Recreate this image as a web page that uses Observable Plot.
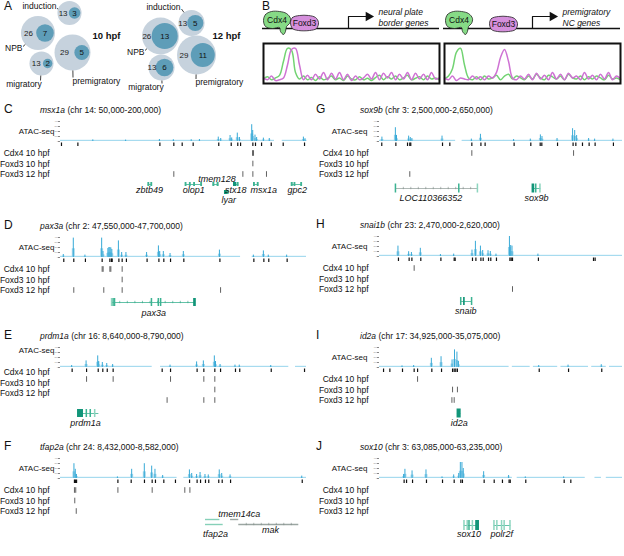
<!DOCTYPE html>
<html><head><meta charset="utf-8">
<script src="https://cdn.jsdelivr.net/npm/d3@7"></script>
<script src="https://cdn.jsdelivr.net/npm/@observablehq/plot@0.6"></script>
<style>
body{margin:0;background:#fff;}
#fig{position:relative;width:624px;height:556px;overflow:hidden;font-family:"Liberation Sans",Arial,Helvetica,sans-serif;color:#111;background:#fff;}
.lbl{position:absolute;white-space:nowrap;line-height:1;}
.letter{font-size:12px;}
.title{font-size:8.5px;}
</style></head><body><div id="fig"></div><script>
// ---------------- DATA ----------------
// Panel A: genes per module and number bound
const categories = ["induction", "NPB", "premigratory", "migratory"];
const totalGenes = [13, 26, 29, 13];
const bound10hpf = [3, 7, 5, 2];
const bound12hpf = [5, 13, 11, 6];

// Panel B: schematic coverage traces (relative signal)
const traceLeftCdx4  = [0.12,0.18,0.1,0.15,0.22,0.6,0.95,0.9,0.3,0.12,0.2,0.1,0.16,0.08,0.18,0.1,0.14,0.2,0.1,0.15,0.08,0.2,0.12,0.1,0.18,0.1,0.14,0.08,0.16,0.22,0.1,0.18,0.12,0.2,0.1,0.15,0.22,0.1,0.14,0.18,0.1,0.2,0.12,0.15,0.1];
const traceLeftFoxd3 = [0.15,0.1,0.2,0.08,0.1,0.15,0.5,0.92,0.95,0.5,0.1,0.22,0.1,0.25,0.12,0.3,0.1,0.28,0.12,0.3,0.1,0.25,0.08,0.2,0.1,0.15,0.25,0.12,0.3,0.1,0.28,0.15,0.3,0.1,0.25,0.12,0.3,0.1,0.28,0.12,0.25,0.1,0.3,0.12,0.15];
const traceRightCdx4 = [0.12,0.2,0.4,0.85,0.95,0.5,0.15,0.1,0.18,0.1,0.2,0.12,0.15,0.22,0.1,0.2,0.25,0.12,0.2,0.15,0.1,0.2,0.12,0.25,0.15,0.1,0.22,0.18,0.12,0.2,0.1,0.25,0.15,0.12,0.2,0.1,0.18,0.12,0.2,0.15,0.1,0.22,0.12,0.15,0.1];
const traceRightFoxd3= [0.15,0.1,0.2,0.08,0.15,0.12,0.1,0.2,0.12,0.18,0.1,0.2,0.15,0.3,0.7,0.92,0.6,0.15,0.1,0.2,0.12,0.25,0.1,0.28,0.12,0.22,0.1,0.3,0.12,0.25,0.1,0.28,0.15,0.2,0.1,0.3,0.12,0.22,0.1,0.25,0.12,0.3,0.1,0.2,0.12];

// Panels C-J: genomic loci (positions in kb)
const loci        = ["msx1a","pax3a","prdm1a","tfap2a","sox9b","snai1b","id2a","sox10"];
const chromosomes = [14, 2, 16, 24, 3, 23, 17, 3];
const regionStart = [50, 47550, 8640, 8432, 2500, 2470, 34925, 63085];
const regionEnd   = [200, 47700, 8790, 8582, 2650, 2620, 35075, 63235];
const trackNames  = ["Cdx4 10 hpf", "Foxd3 10 hpf", "Foxd3 12 hpf"];

// C: msx1a
const msx1a_atac = [[70,0.08],[90,0.07],[110.6,0.1],[119.1,0.09],[130,0.09],[135,0.1],[146.5,0.22],[148.0,0.15],[153.7,0.30],[154.7,0.18],[158.1,0.42],[159.4,0.2],[166.9,0.84],[167.5,0.55],[168.9,0.32],[169.9,0.2],[174.0,0.17],[177.6,0.15],[198.4,0.22],[199.4,0.14]];
const msx1a_cov = [[50,180.5],[185.2,200]];
const msx1a_peaks = [50.6,60.6,110.6,119.1,124.2,130.9,146.5,154.1,158.1,159.8,167.3,168.9,172.6,178.5,185.8,198.8];
const msx1a_cdx4 = [167.1,167.7];
const msx1a_foxd3_10 = [167.3];
const msx1a_foxd3_12 = [119.1,161.2,167.3,175.6];
const msx1a_genes = [
 {name:"zbtb49", start:103.5, end:106.0, exons:[[103.5,104.2,1],[105.3,106.0,1]], lane:0, label:"below", at:104.3},
 {name:"olop1", start:126.2, end:136.4, exons:[[126.2,126.9,1],[128.8,129.5,1],[131.4,132.1,1],[135.7,136.4,1]], lane:0, label:"below", at:131.3},
 {name:"tmem128", start:143.1, end:146.5, exons:[[143.1,143.9,1],[145.7,146.5,1]], lane:0, label:"above", at:145.5},
 {name:"lyar", start:150.2, end:152.6, exons:[[150.2,151.6,0],[151.9,152.6,1]], lane:1, label:"below2", at:152.6},
 {name:"stx18", start:155.7, end:158.7, exons:[[155.7,157.3,0],[158.0,158.7,1]], lane:0, label:"below", at:156.9},
 {name:"msx1a", start:167.9, end:170.9, exons:[[167.9,168.6,1],[170.2,170.9,1]], lane:0, label:"below", at:174.0},
 {name:"gpc2", start:190.9, end:197.4, exons:[[190.9,191.7,1],[192.6,193.3,1],[196.7,197.4,1]], lane:0, label:"below", at:194.3}
];
// D: pax3a
const pax3a_atac = [[47552.0,0.15],[47558.1,0.97],[47565.2,0.12],[47575.4,0.97],[47576.2,0.3],[47579.2,0.45],[47579.8,0.5],[47580.4,0.5],[47581.0,0.48],[47581.6,0.4],[47585.6,0.83],[47587.6,0.25],[47590.2,0.25],[47602.8,0.25],[47610.0,0.58],[47610.8,0.3],[47613.0,0.3],[47617.1,0.2],[47625.2,0.3],[47647.2,0.37],[47667.9,0.12],[47674.0,0.33],[47677.0,0.12],[47688.2,0.12]];
const pax3a_cov = [[47550,47659.8],[47666.9,47700]];
const pax3a_peaks = [47552.0,47558.1,47565.2,47575.4,47580.1,47581.1,47581.5,47585.6,47587.6,47590.2,47602.8,47610.0,47613.0,47617.1,47625.2,47647.2,47667.9,47674.0,47677.0,47688.2];
const pax3a_cdx4 = [47575.4,47576.0,47580.1,47580.7,47587.6];
const pax3a_foxd3_10 = [47587.6];
const pax3a_foxd3_12 = [47558.1,47576.4,47587.6,47647.6];
const pax3a_genes = [
 {name:"pax3a", start:47581.5, end:47632.3, exons:[[47581.2,47581.7,2],[47582.1,47582.6,1],[47583.0,47583.5,1],[47605.5,47606.0,1],[47609.7,47610.2,1],[47611.1,47611.6,1],[47631.4,47632.6,0]], lane:0, label:"below", at:47606.9, ticks:true}
];
// E: prdm1a
const prdm1a_atac = [[8647.1,0.1],[8655.9,0.33],[8663.0,0.58],[8663.6,0.3],[8665.8,0.25],[8668.5,0.2],[8672.1,0.15],[8707.1,0.12],[8723.3,0.28],[8727.4,0.33],[8734.1,0.58],[8734.8,0.3],[8737.6,0.15],[8746.7,0.12],[8749.3,0.12],[8768.5,0.1]];
const prdm1a_cov = [[8640,8695.9],[8701.0,8779.2],[8783.3,8790]];
const prdm1a_peaks = [8647.1,8655.9,8663.0,8665.8,8668.5,8672.1,8702.0,8707.1,8723.3,8727.4,8734.1,8737.6,8746.7,8749.3,8768.5,8788.8];
const prdm1a_cdx4 = [8655.9,8672.1,8707.1,8727.4,8734.1];
const prdm1a_foxd3_10 = [8734.1];
const prdm1a_foxd3_12 = [8705.0,8727.4,8734.1];
const prdm1a_genes = [
 {name:"prdm1a", start:8650.6, end:8663.4, exons:[[8650.6,8653.8,0],[8655.8,8656.3,1],[8658.2,8658.7,1],[8660.9,8661.4,2]], lane:0, label:"below", at:8655.2}
];
// F: tfap2a
const tfap2a_atac = [[8440.5,0.74],[8441.3,0.46],[8442.0,0.2],[8467.0,0.08],[8475.7,0.46],[8483.4,0.74],[8487.9,0.62],[8489.9,0.46],[8494.6,0.15],[8510.9,0.43],[8512.3,0.25],[8515.3,0.2],[8517.4,0.3],[8520.4,0.2],[8522.4,0.18],[8529.1,0.43],[8530.6,0.25],[8535.7,0.18],[8579.4,0.12]];
const tfap2a_cov = [[8432,8503.1],[8507.2,8582]];
const tfap2a_peaks = [8440.5,8441.1,8441.8,8467.0,8475.1,8483.2,8487.9,8489.9,8495.0,8502.1,8510.7,8515.3,8517.4,8520.4,8522.4,8528.5,8530.6,8535.7,8579.4];
const tfap2a_cdx4 = [8440.5,8441.3,8467.0,8487.9,8507.8,8510.9];
const tfap2a_foxd3_10 = [8440.7];
const tfap2a_foxd3_12 = [8441.6];
const tfap2a_genes = [
 {name:"tfap2a", start:8520.4, end:8529.2, exons:[], lane:0, label:null, line:"light"},
 {name:"tfap2a", start:8520.4, end:8531.2, exons:[], lane:1, label:"below2", at:8526.5, line:"light"},
 {name:"tmem14ca", start:8535.7, end:8540.7, exons:[], lane:0, label:"above", at:8541.0, line:"grey"},
 {name:"mak", start:8540.7, end:8577.3, exons:[], lane:1, label:"below", at:8560.0, line:"grey", ticks:true}
];
// G: sox9b
const sox9b_atac = [[2501.8,0.22],[2510.1,0.69],[2510.8,0.3],[2518.3,0.27],[2519.3,0.2],[2520.3,0.15],[2538.9,0.27],[2557.0,0.12],[2562.6,0.36],[2583.1,0.1],[2593.4,0.12],[2599.6,0.33],[2600.6,0.25],[2609.9,0.15],[2619.5,0.64],[2620.8,0.55],[2622.0,0.3],[2629.4,0.15],[2633.1,0.12],[2644.4,0.12]];
const sox9b_cov = [[2500,2547],[2551,2650]];
const sox9b_peaks = [2501.4,2510.1,2517.3,2518.7,2519.3,2538.9,2543.4,2557.0,2562.6,2565.2,2583.1,2593.4,2599.2,2600.2,2609.9,2619.5,2621.2,2625.3,2629.4,2633.1,2644.4];
const sox9b_cdx4 = [2557.0,2619.8];
const sox9b_foxd3_10 = [];
const sox9b_foxd3_12 = [2518.7];
const sox9b_genes = [
 {name:"LOC110366352", start:2510.1, end:2560.9, exons:[[2509.9,2510.4,1],[2549.0,2549.5,1],[2560.5,2561.0,2]], lane:0, label:"below", at:2531.7, line:"grey", ticks:true},
 {name:"sox9b", start:2594.4, end:2599.6, exons:[[2594.4,2595.6,0],[2596.5,2597.0,1],[2599.1,2599.6,2]], lane:0, label:"below", at:2596.9}
];
// H: snai1b
const snai1b_atac = [[2481.7,0.52],[2488.3,0.24],[2490.0,0.2],[2495.5,0.41],[2507.9,0.1],[2516.1,0.12],[2527.4,0.32],[2529.5,0.76],[2532.6,0.52],[2534.0,0.3],[2537.3,0.29],[2538.7,0.25],[2542.2,0.12],[2550.5,1.0],[2551.3,0.55],[2552.1,0.52],[2568.1,0.12]];
const snai1b_cov = [[2470,2620]];
const snai1b_peaks = [2481.7,2488.3,2490.0,2495.5,2507.9,2516.1,2516.7,2527.4,2529.5,2532.6,2534.0,2537.3,2538.7,2542.2,2550.5,2551.3,2552.1,2568.1,2602.1,2603.1];
const snai1b_cdx4 = [2491.4];
const snai1b_foxd3_10 = [];
const snai1b_foxd3_12 = [2552.1];
const snai1b_genes = [
 {name:"snaib", start:2520.2, end:2527.4, exons:[[2520.2,2520.7,1],[2522.1,2522.7,0],[2526.9,2527.4,1]], lane:0, label:"below", at:2523.3}
];
// I: id2a
const id2a_atac = [[34939.2,0.08],[34946.4,0.1],[34957.3,0.46],[34963.3,0.54],[34970.1,0.38],[34971.6,0.88],[34973.1,0.77],[34974.0,0.3],[35023.6,0.1],[35041.7,0.12],[35062.2,0.14]];
const id2a_cov = [[34925,35005],[35007,35018],[35020,35035],[35037,35054],[35056,35065],[35067,35075]];
const id2a_peaks = [34927.5,34931.4,34939.2,34946.4,34948.5,34957.3,34963.3,34970.1,34971.1,34972.1,34973.1,35023.6,35041.7,35062.2];
const id2a_cdx4 = [34948.5];
const id2a_foxd3_10 = [34970.1,34973.1];
const id2a_foxd3_12 = [34969.7,34971.1];
const id2a_genes = [
 {name:"id2a", start:34973.1, end:34975.2, exons:[[34973.1,34975.2,0]], lane:0, label:"below", at:34974.2}
];
// J: sox10
const sox10_atac = [[63100.2,0.2],[63101.0,0.46],[63105.4,0.38],[63114.0,0.43],[63123.9,0.08],[63131.1,0.18],[63134.2,0.25],[63135.2,0.8],[63136.2,0.8],[63137.0,0.5],[63149.6,0.34],[63165.0,0.15],[63175.3,0.08],[63199.0,0.08]];
const sox10_cov = [[63085,63167],[63170,63212],[63218,63222],[63225,63235]];
const sox10_peaks = [63100.2,63101.7,63105.4,63114.0,63123.9,63131.1,63135.2,63136.2,63149.6,63155.8,63160.9,63165.0,63165.7,63175.3,63199.0,63203.1];
const sox10_cdx4 = [];
const sox10_foxd3_10 = [];
const sox10_foxd3_12 = [];
const sox10_genes = [
 {name:"sox10", start:63137.3, end:63146.5, exons:[[63137.2,63137.7,2],[63139.2,63139.7,2],[63140.3,63140.8,1],[63142.4,63142.9,2],[63144.6,63146.5,0]], lane:0, label:"below", at:63140.3},
 {name:"polr2f", start:63155.8, end:63166.1, exons:[[63155.7,63156.2,2],[63157.5,63158.0,2],[63160.4,63160.9,2],[63162.0,63162.5,2],[63165.6,63166.1,2]], lane:0, label:"below", at:63160.5}
];

// ---------------- LAYOUT / DRAW ----------------
const fig = document.getElementById("fig");
const FONT = '"Liberation Sans", Arial, Helvetica, sans-serif';
const st = {fontFamily: FONT, background: "transparent", overflow: "visible", color: "#111"};
function put(node, left, top) {
  node.style.position = "absolute"; node.style.left = left + "px"; node.style.top = top + "px";
  node.style.maxWidth = "none";
  fig.appendChild(node); return node;
}
function html(text, cls, left, top) {
  const d = document.createElement("div"); d.className = "lbl " + cls; d.innerHTML = text; return put(d, left, top);
}

// ---- Panel A ----
html("A", "letter", 4, 0);
function circles(bound, pos, rMax, labels, stage) {
  const rs = n => rMax * Math.sqrt(n / 29);
  const rows = categories.map((c, i) => {
    const R = rs(totalGenes[i]), r = rs(bound[i]);
    const cx = pos[i][0], cy = pos[i][1], icx = cx + R - r - 1.2;
    return {cat: c, total: totalGenes[i], bound: bound[i], cx, cy, icx, tlx: (cx - R + icx - r) / 2, R};
  });
  const leaders = labels.map(l => {
    const c = rows.find(r => r.cat === l.cat);
    const dx = c.cx - l.lx, dy = c.cy - l.ly, dist = Math.hypot(dx, dy), t = (dist - c.R) / dist;
    return {...l, ex: l.lx + dx * t, ey: l.ly + dy * t};
  });
  const labelMarks = ["start", "middle", "end"].map(a =>
    Plot.text(leaders.filter(l => l.anchor === a), {x: "x", y: "y", text: "text", textAnchor: a, fontSize: 8.5, fill: "#111"}));
  return Plot.plot({
    width: 250, height: 95, margin: 0, style: st,
    x: {domain: [0, 250], range: [0, 250], axis: null},
    y: {domain: [0, 95], range: [0, 95], axis: null},
    r: {type: "sqrt", domain: [0, 29], range: [0, rMax]},
    marks: [
      Plot.dot(rows, {x: "cx", y: "cy", r: "total", fill: "#c6d2dd"}),
      Plot.dot(rows, {x: "icx", y: "cy", r: "bound", fill: "#5e9db8"}),
      Plot.text(rows, {x: "tlx", y: "cy", text: d => String(d.total), fontSize: 8, fill: "#222"}),
      Plot.text(rows, {x: "icx", y: "cy", text: d => String(d.bound), fontSize: 8, fill: "#111"}),
      Plot.link(leaders, {x1: "lx", y1: "ly", x2: "ex", y2: "ey", stroke: "#111", strokeWidth: 0.8}),
      ...labelMarks,
      Plot.text([stage], {x: "x", y: "y", text: "text", textAnchor: "start", fontSize: 9.5, fontWeight: "bold", fill: "#111"})
    ]
  });
}
put(circles(bound10hpf, [[69, 12.5], [37.5, 32.5], [72, 52], [41, 63]], 18,
  [{cat: "induction", text: "induction", x: 56, y: 6, anchor: "end", lx: 56.5, ly: 8},
   {cat: "NPB", text: "NPB", x: 22, y: 48, anchor: "end", lx: 22.5, ly: 46},
   {cat: "migratory", text: "migratory", x: 23.5, y: 84, anchor: "middle", lx: 40, ly: 80},
   {cat: "premigratory", text: "premigratory", x: 72, y: 81, anchor: "start", lx: 72.5, ly: 77}],
  {text: "10 hpf", x: 92, y: 35}), 0, 0);
put(circles(bound12hpf, [[191, 22.5], [160, 35.5], [196, 54.5], [161, 67]], 19.5,
  [{cat: "induction", text: "induction", x: 180, y: 7, anchor: "end", lx: 181, ly: 8.5},
   {cat: "NPB", text: "NPB", x: 144, y: 52, anchor: "end", lx: 144.5, ly: 50},
   {cat: "migratory", text: "migratory", x: 145.5, y: 87, anchor: "middle", lx: 161.5, ly: 83},
   {cat: "premigratory", text: "premigratory", x: 195, y: 82, anchor: "start", lx: 195.5, ly: 78.5}],
  {text: "12 hpf", x: 212, y: 35}), 0, 0);

// ---- Panel B ----
html("B", "letter", 262, 0);
const cdx4Outline = [[0,9],[2,3],[8,0],[16,0],[23,2],[27,7],[26,12],[23,15],[22,20],[20,23],[17,20],[16,16],[9,17],[2,15]];
const foxd3Outline = [[0,7],[2,2],[9,0],[18,0],[25,2],[28,7],[26,13],[19,15],[8,15],[2,13]];
function schematic(cdxX, foxX, foxY, arrowX, line1, line2) {
  const shift = (o, dx, dy) => o.map(([x, y]) => ({x: x + dx, y: y + dy}));
  return Plot.plot({
    width: 178, height: 36, margin: 0, style: st,
    x: {domain: [0, 178], range: [0, 178], axis: null},
    y: {domain: [0, 36], range: [0, 36], axis: null},
    marks: [
      Plot.ruleY([28], {x1: 0, x2: 177, stroke: "#111", strokeWidth: 1.6}),
      Plot.line(shift(foxd3Outline, foxX, foxY), {x: "x", y: "y", curve: "catmull-rom-closed", fill: "#d58fdc", stroke: "#222", strokeWidth: 0.8}),
      Plot.line(shift(cdx4Outline, cdxX, 11), {x: "x", y: "y", curve: "catmull-rom-closed", fill: "#86da86", stroke: "#222", strokeWidth: 0.8}),
      Plot.text([{x: cdxX + 13.5, y: 20, t: "Cdx4"}, {x: foxX + 14, y: foxY + 7.5, t: "Foxd3"}], {x: "x", y: "y", text: "t", fontSize: 8.5, fill: "#111"}),
      Plot.line([{x: arrowX, y: 28}, {x: arrowX, y: 16}, {x: arrowX + 18, y: 16}], {x: "x", y: "y", stroke: "#111", strokeWidth: 1.2}),
      Plot.dot([{x: arrowX + 20, y: 16}], {x: "x", y: "y", symbol: "triangle", rotate: 90, r: 3.6, fill: "#111"}),
      Plot.text([{y: 12, t: line1}, {y: 23, t: line2}], {x: arrowX + 30, y: "y", text: "t", textAnchor: "start", fontStyle: "italic", fontSize: 8.5, fill: "#111"})
    ]
  });
}
put(schematic(1, 28, 15, 86, "neural plate", "border genes"), 262, 0);
put(schematic(2, 46, 16, 89, "premigratory", "NC genes"), 443, 0);
function traceBox(a, b) {
  const toPts = v => v.map((y, i) => ({x: i / (v.length - 1) * 100, y}));
  return Plot.plot({
    width: 178, height: 42, margin: 1, style: st,
    x: {domain: [0, 100], axis: null},
    y: {domain: [0, 1.08], axis: null},
    marks: [
      Plot.line(toPts(a), {x: "x", y: "y", curve: "catmull-rom", stroke: "#72d372", strokeWidth: 1.5}),
      Plot.line(toPts(b), {x: "x", y: "y", curve: "catmull-rom", stroke: "#cf72d4", strokeWidth: 1.5}),
      Plot.frame({stroke: "#111", strokeWidth: 2})
    ]
  });
}
put(traceBox(traceLeftCdx4, traceLeftFoxd3), 262, 42);
put(traceBox(traceRightCdx4, traceRightFoxd3), 443, 42);

// ---- Panels C-J ----
const fmt = d3.format(",");
const panelData = {
  msx1a:  {atac: msx1a_atac, cov: msx1a_cov, peaks: msx1a_peaks, tracks: [msx1a_cdx4, msx1a_foxd3_10, msx1a_foxd3_12], genes: msx1a_genes},
  pax3a:  {atac: pax3a_atac, cov: pax3a_cov, peaks: pax3a_peaks, tracks: [pax3a_cdx4, pax3a_foxd3_10, pax3a_foxd3_12], genes: pax3a_genes},
  prdm1a: {atac: prdm1a_atac, cov: prdm1a_cov, peaks: prdm1a_peaks, tracks: [prdm1a_cdx4, prdm1a_foxd3_10, prdm1a_foxd3_12], genes: prdm1a_genes},
  tfap2a: {atac: tfap2a_atac, cov: tfap2a_cov, peaks: tfap2a_peaks, tracks: [tfap2a_cdx4, tfap2a_foxd3_10, tfap2a_foxd3_12], genes: tfap2a_genes},
  sox9b:  {atac: sox9b_atac, cov: sox9b_cov, peaks: sox9b_peaks, tracks: [sox9b_cdx4, sox9b_foxd3_10, sox9b_foxd3_12], genes: sox9b_genes},
  snai1b: {atac: snai1b_atac, cov: snai1b_cov, peaks: snai1b_peaks, tracks: [snai1b_cdx4, snai1b_foxd3_10, snai1b_foxd3_12], genes: snai1b_genes},
  id2a:   {atac: id2a_atac, cov: id2a_cov, peaks: id2a_peaks, tracks: [id2a_cdx4, id2a_foxd3_10, id2a_foxd3_12], genes: id2a_genes},
  sox10:  {atac: sox10_atac, cov: sox10_cov, peaks: sox10_peaks, tracks: [sox10_cdx4, sox10_foxd3_10, sox10_foxd3_12], genes: sox10_genes}
};
// layout per panel (letter, column, top, gene lanes...)
const layout = [
  {letter: "C", col: 0, T: 111, lanes: [43, 51], exonH: 4, nameDy: 6, labelDy: 0, lineW: 0.8},
  {letter: "D", col: 0, T: 227, lanes: [45], exonH: 8, nameDy: 11, labelDy: 0, lineW: 0.8},
  {letter: "E", col: 0, T: 337, lanes: [46], exonH: 8, nameDy: 10, labelDy: -7, lineW: 0.8},
  {letter: "F", col: 0, T: 448, lanes: [41, 46], exonH: 3, nameDy: 6, labelDy: 0, lineW: 1.4},
  {letter: "G", col: 1, T: 111, lanes: [47], exonH: 9, nameDy: 10, labelDy: 0, lineW: 0.8},
  {letter: "H", col: 1, T: 226, lanes: [45], exonH: 8, nameDy: 10, labelDy: 0, lineW: 0.8},
  {letter: "I", col: 1, T: 337, lanes: [46], exonH: 9, nameDy: 10, labelDy: 0, lineW: 0.8},
  {letter: "J", col: 1, T: 448, lanes: [47], exonH: 10, nameDy: 9, labelDy: 0, lineW: 0.8}
];
const exonColors = ["#129579", "#3cb392", "#8dd5bf"];
const lineColors = {green: "#3cb392", grey: "#9ba6a2", light: "#86d0b8"};
const rowY = [12, 22.5, 33];

loci.forEach((locus, i) => {
  const L = layout[i], D = panelData[locus];
  const start = regionStart[i], end = regionEnd[i];
  const colX = L.col ? 312 : 0, x0 = L.col ? 67 : 60, x1 = L.col ? 310 : 306;
  html(L.letter, "letter", colX + 4, L.T - 8);
  html(`<i>${locus}</i> (chr ${chromosomes[i]}: ${fmt(start * 1000)}-${fmt(end * 1000)})`, "title", colX + (L.col ? 48 : 40), L.T - 5);
  const labelDx = L.col ? -12 : -6;
  // ATAC track
  const atac = Plot.plot({
    width: 312, height: 23, marginLeft: x0, marginRight: 312 - x1, marginTop: 2, marginBottom: 1, style: st,
    x: {domain: [start, end], axis: null},
    y: {domain: [0, 1]},
    marks: [
      Plot.axisY({ticks: [0, 0.25, 0.5, 0.75, 1], tickSize: 2, tickPadding: 0.4, fontSize: 2.2, color: "#888", tickFormat: d => String(Math.round(d * 400)), label: null}),
      Plot.rect(D.cov, {x1: d => d[0], x2: d => d[1], y1: 0, y2: 0.06, fill: "#a7dbef"}),
      Plot.rect(D.atac, {x1: d => d[0] - 0.9, x2: d => d[0] + 0.9, y1: 0, y2: d => d[1] * 0.45, fill: "#9fd6ec"}),
      Plot.rect(D.atac, {x1: d => d[0] - 0.3, x2: d => d[0] + 0.3, y1: 0, y2: d => d[1], fill: "#34a8d6"}),
      Plot.text(["ATAC-seq"], {frameAnchor: "left", dx: labelDx, dy: L.labelDy, textAnchor: "end", fontSize: 8, fill: "#111"})
    ]
  });
  put(atac, colX, L.T + 8);
  // annotation tracks + genes
  const marks = [
    Plot.ruleX(D.peaks, {x: d => d, y1: 1.5, y2: 5, stroke: "#111", strokeWidth: 1.2}),
    Plot.text(trackNames, {x: () => start, y: (d, j) => rowY[j] + L.labelDy, dx: -11, textAnchor: "end", fontSize: 8.5, fill: "#111"})
  ];
  D.tracks.forEach((t, j) => marks.push(Plot.ruleX(t, {x: d => d, y1: rowY[j] - 2.8, y2: rowY[j] + 2.8, stroke: "#444", strokeWidth: 0.85})));
  const genes = D.genes.map(g => ({...g, y: L.lanes[g.lane]}));
  Object.entries(lineColors).forEach(([k, c]) => {
    const gs = genes.filter(g => (g.line || "green") === k);
    marks.push(Plot.ruleY(gs, {y: "y", x1: "start", x2: "end", stroke: c, strokeWidth: L.lineW}));
    const ticks = gs.filter(g => g.ticks).flatMap(g => {
      const n = Math.ceil((g.end - g.start) / 5);
      return d3.range(1, n).map(k2 => ({x: g.start + (g.end - g.start) * k2 / n, y: g.y}));
    });
    marks.push(Plot.ruleX(ticks, {x: "x", y1: d => d.y - 1.2, y2: d => d.y + 1.2, stroke: k === "grey" ? "#7d8a86" : "#2a9f80", strokeWidth: 0.6}));
  });
  exonColors.forEach((c, tone) => {
    const ex = genes.flatMap(g => g.exons.filter(e => e[2] === tone).map(e => ({s: e[0], e: e[1], y: g.y})));
    marks.push(Plot.rect(ex, {x1: "s", x2: "e", y1: d => d.y - L.exonH / 2, y2: d => d.y + L.exonH / 2, fill: c, insetLeft: -0.35, insetRight: -0.35}));
  });
  const labs = genes.filter(g => g.label).map(g => ({...g,
    ly: g.label === "above" ? g.y - 5 : g.label === "below2" ? g.y + L.nameDy + (L.letter === "C" ? 1.5 : 4) : g.y + L.nameDy}));
  marks.push(Plot.text(labs, {x: "at", y: "ly", text: "name", fontStyle: "italic", fontSize: 9, fill: "#111"}));
  const ann = Plot.plot({
    width: 312, height: 64, marginLeft: x0, marginRight: 312 - x1, marginTop: 0, marginBottom: 0, style: st,
    x: {domain: [start, end], axis: null},
    y: {domain: [0, 64], range: [0, 64], axis: null},
    marks
  });
  put(ann, colX, L.T + 30);
});
</script></body></html>
